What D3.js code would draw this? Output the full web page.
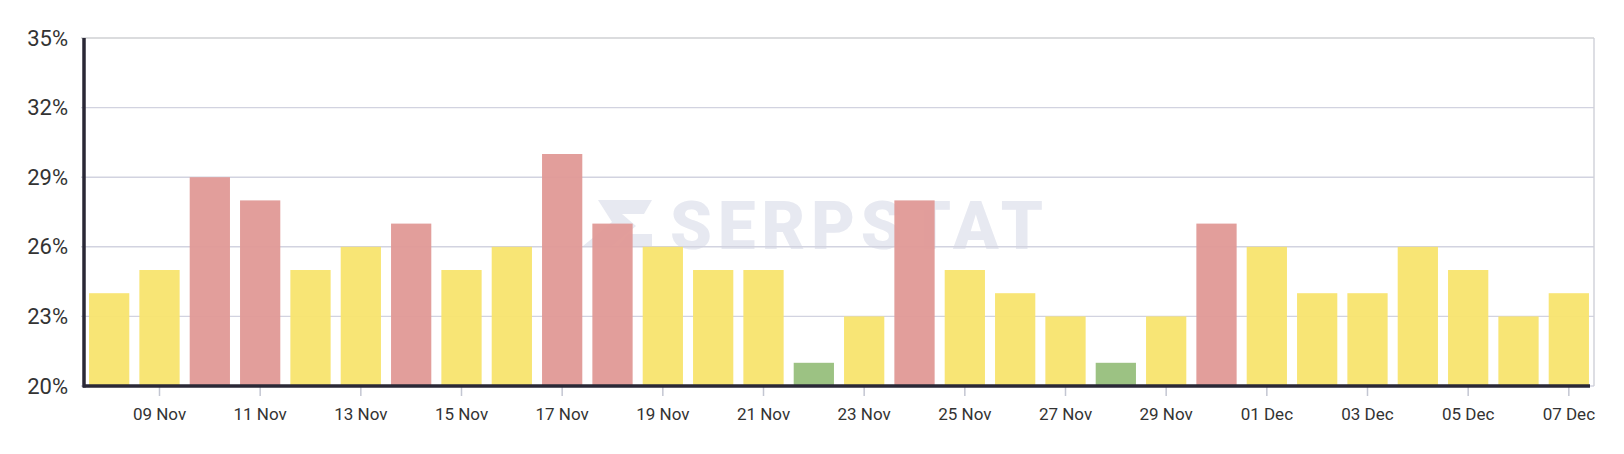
<!DOCTYPE html>
<html>
<head>
<meta charset="utf-8">
<script src="https://cdn.jsdelivr.net/npm/d3@7"></script>
<style>
  html, body { margin: 0; padding: 0; background: #fff; }
  svg { display: block; font-family: Roboto, "Noto Sans", sans-serif; }
</style>
</head>
<body>
<svg id="chart" width="1624" height="454"></svg>
<script>
const dates = ["08 Nov","09 Nov","10 Nov","11 Nov","12 Nov","13 Nov","14 Nov","15 Nov","16 Nov","17 Nov",
  "18 Nov","19 Nov","20 Nov","21 Nov","22 Nov","23 Nov","24 Nov","25 Nov","26 Nov","27 Nov",
  "28 Nov","29 Nov","30 Nov","01 Dec","02 Dec","03 Dec","04 Dec","05 Dec","06 Dec","07 Dec"];
const values = [24,25,29,28,25,26,27,25,26,30,
  27,26,25,25,21,23,28,25,24,23,
  21,23,27,26,24,24,26,25,23,24];
const yTicks = [20,23,26,29,32,35];
const xTickLabels = ["09 Nov","11 Nov","13 Nov","15 Nov","17 Nov","19 Nov","21 Nov","23 Nov","25 Nov","27 Nov","29 Nov","01 Dec","03 Dec","05 Dec","07 Dec"];

const svg = d3.select("#chart");
const m = {left: 84, right: 30, top: 38, bottom: 68};
const W = 1624, H = 454;
const x = d3.scaleBand().domain(dates).range([m.left, W - m.right]).paddingInner(0.2).paddingOuter(0.1);
const y = d3.scaleLinear().domain([20, 35]).range([H - m.bottom, m.top]);

const colorFor = v => v >= 27 ? "#e09996" : (v <= 21 ? "#97bf7c" : "#f8e46e");

// watermark
const wm = svg.append("g").attr("fill", "#e7e9f1");
wm.append("path").attr("d", "M598,200 L652,200 L644,214 L622,214 L636,226 L612,246 L583,246 L612,222 Z M628,234 L652,234 L652,246 L618,246 Z");
wm.append("text").attr("x", 670).attr("y", 249).attr("font-size", 67).attr("font-weight", 900)
  .attr("letter-spacing", 6).text("SERPSTAT");

// grid
svg.append("g").selectAll("line").data(yTicks).join("line")
  .attr("x1", m.left - 3).attr("x2", W - m.right)
  .attr("y1", d => y(d)).attr("y2", d => y(d))
  .attr("stroke", d => d === 35 ? "#cfd0d3" : "#d2d3e0").attr("stroke-width", 1.4);
// right border
svg.append("line").attr("x1", W - m.right).attr("x2", W - m.right)
  .attr("y1", m.top).attr("y2", H - m.bottom).attr("stroke", "#cfd0d8").attr("stroke-width", 1.4);

// bars
svg.append("g").selectAll("rect").data(values).join("rect")
  .attr("x", (d, i) => x(dates[i])).attr("width", x.bandwidth())
  .attr("y", d => y(d)).attr("height", d => y(20) - y(d))
  .attr("fill", d => colorFor(d)).attr("fill-opacity", 0.95);

// y axis
const yAxis = d3.axisLeft(y).tickValues(yTicks).tickFormat(d => d + "%").tickSize(0).tickPadding(16);
const gy = svg.append("g").attr("transform", `translate(${m.left},0)`).call(yAxis);
gy.select(".domain").remove();
gy.selectAll("text").attr("font-size", 22).attr("fill", "#333").attr("font-family", "Roboto, sans-serif");

// x axis
const xAxis = d3.axisBottom(x).tickValues(xTickLabels).tickSize(10).tickPadding(12);
const gx = svg.append("g").attr("transform", `translate(0,${H - m.bottom})`).call(xAxis);
gx.select(".domain").remove();
gx.selectAll(".tick line").attr("stroke", "#c3c6d2").attr("stroke-width", 1.5);
gx.selectAll("text").attr("font-size", 17).attr("fill", "#333").attr("font-family", "Roboto, sans-serif");

// axis lines
svg.append("line").attr("x1", m.left - 1).attr("x2", W - m.right - 4)
  .attr("y1", H - m.bottom).attr("y2", H - m.bottom).attr("stroke", "#2a2836").attr("stroke-width", 3.5);
svg.append("line").attr("x1", m.left).attr("x2", m.left)
  .attr("y1", m.top).attr("y2", H - m.bottom + 1.5).attr("stroke", "#2a2836").attr("stroke-width", 3.5);
</script>
</body>
</html>
